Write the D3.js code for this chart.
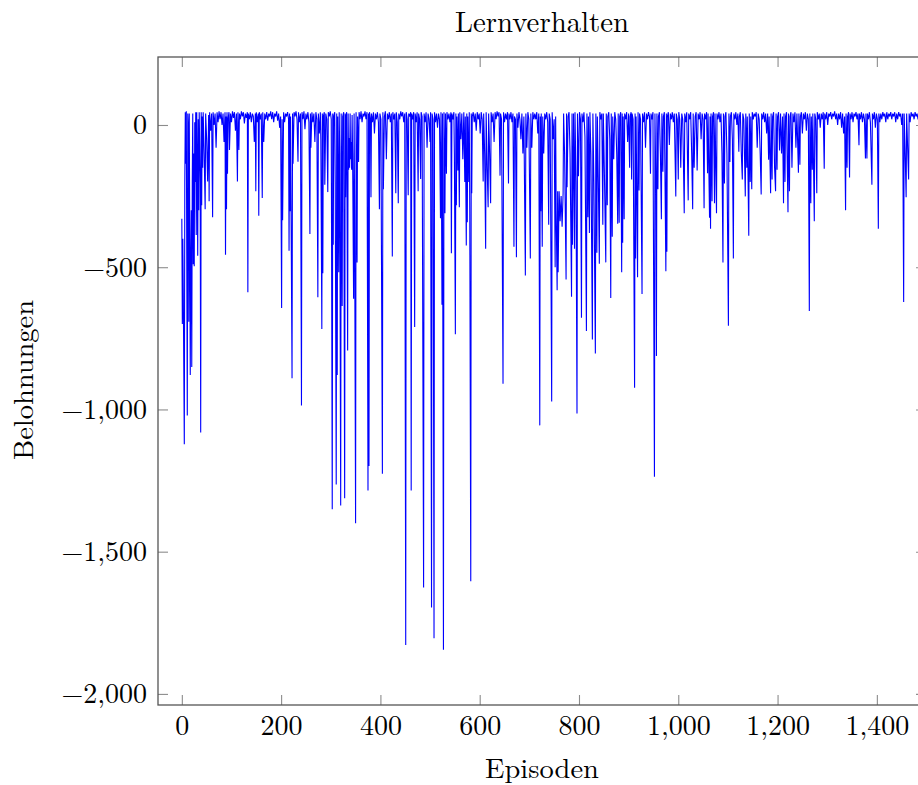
<!DOCTYPE html>
<html>
<head>
<meta charset="utf-8">
<script src="https://cdn.jsdelivr.net/npm/d3@7/dist/d3.min.js"></script>
<style>
  html, body { margin: 0; padding: 0; background: #fff; }
  svg { display: block; }
  text { font-family: "Latin Modern Roman", "CMU Serif", "Liberation Serif", "DejaVu Serif", serif; fill: #000; }
</style>
</head>
<body>
<svg id="chart" width="918" height="785"></svg>
<script>
// ---------- data ----------
const chartTitle = "Lernverhalten";
const xLabel = "Episoden";
const yLabel = "Belohnungen";
const xTickValues = [0, 200, 400, 600, 800, 1000, 1200, 1400];
const xTickLabels = ["0", "200", "400", "600", "800", "1,000", "1,200", "1,400"];
const yTickValues = [0, -500, -1000, -1500, -2000];
const yTickLabels = ["0", "\u2212500", "\u22121,000", "\u22121,500", "\u22122,000"];

// [episode, reward]
const rewardPoints = [
[0,-330],[1,-700],[2,-400],[3,-600],[5,-1122],[6,-200],[7,45],[8,-136],[9,48],[11,-1021],[12,40],[13,0],[14,-692],[15,40],[16,-400],[17,-879],[18,-493],[19,-300],[20,-851],[21,-200],[22,40],[23,-490],[24,-100],[25,-497],[26,10],[27,-200],[28,45],[29,-387],[30,45],[31,-150],[32,-460],[33,20],[34,-300],[35,45],[37,-200],[38,-1081],[39,45],[40,-282],[41,30],[42,-150],[43,45],[45,-100],[47,-296],[48,40],[50,-50],[52,-199],[54,35],[55,-268],[56,45],[58,-20],[60,40],[62,-324],[63,45],[65,0],[67,40],[69,-80],[71,45],[73,10],[75,48],[77,20],[79,45],[81,0],[83,40],[85,-60],[87,45],[88,-456],[89,30],[90,-296],[91,45],[92,-171],[93,20],[95,45],[96,-88],[98,40],[100,10],[102,48],[104,25],[106,45],[108,-20],[110,40],[112,-199],[113,45],[115,-88],[116,40],[118,20],[120,48],[122,30],[124,45],[126,5],[128,40],[130,25],[132,45],[133,-588],[134,40],[136,20],[138,45],[140,10],[142,40],[144,30],[146,-60],[148,40],[149,-233],[150,45],[152,10],[154,40],[155,-319],[156,45],[158,20],[160,40],[162,-257],[163,45],[165,-60],[167,40],[169,20],[171,45],[173,15],[175,40],[177,30],[179,48],[181,20],[183,45],[185,10],[187,40],[189,30],[191,48],[193,15],[195,40],[197,-10],[199,30],
[201,-643],[202,20],[203,-335],[205,45],[207,10],[209,40],[211,30],[213,45],[215,20],[216,-442],[217,40],[218,-303],[219,30],[222,-890],[223,40],[224,-136],[226,45],[228,30],[230,48],[232,20],[234,-129],[235,45],[237,10],[239,40],[241,-986],[242,45],[244,20],[246,48],[248,-15],[250,40],[252,20],[254,45],[256,10],[258,-383],[259,40],[260,-80],[262,45],[264,10],[266,40],[268,-60],[270,45],[272,20],[274,-606],[275,40],[277,-30],[279,45],[280,-50],[282,-717],[283,40],[284,-521],[285,30],[287,45],[288,-210],[290,40],[292,20],[294,-236],[295,45],[297,30],[299,48],
[301,20],[303,-1351],[304,40],[305,-421],[306,30],[308,45],[309,-200],[311,-1264],[312,40],[313,-879],[314,30],[316,-518],[317,45],[318,-100],[320,-1338],[321,40],[322,-200],[323,-636],[324,30],[326,45],[328,-1312],[329,40],[330,-254],[331,30],[332,45],[334,-793],[335,40],[336,-157],[337,-46],[338,-150],[339,40],[340,-120],[341,-60],[342,-157],[343,35],[344,-100],[346,-611],[347,40],[348,-300],[350,-1400],[351,45],[352,-150],[353,-483],[354,30],[356,-130],[357,45],[359,20],[361,48],[363,10],[365,40],[367,30],[369,48],[371,20],[373,45],[375,-1285],[376,40],[377,-1199],[378,45],[380,20],[381,-254],[382,40],[384,10],[386,45],[388,-30],[390,40],[392,20],[394,45],[396,10],[398,-296],[399,40],
[401,20],[404,-1226],[405,45],[406,-226],[408,30],[410,48],[412,-120],[414,40],[416,20],[418,45],[420,10],[422,40],[424,-462],[425,45],[427,20],[429,40],[431,-240],[432,45],[434,10],[436,-275],[437,40],[439,20],[441,48],[443,30],[445,45],[447,10],[449,40],[451,-1828],[452,45],[454,20],[456,-247],[457,40],[459,30],[461,45],[462,-1285],[463,40],[465,20],[467,45],[469,-710],[470,40],[472,10],[474,45],[476,-233],[477,40],[479,20],[481,-190],[482,45],[484,30],[487,-1626],[488,40],[490,10],[492,45],[494,-80],[496,40],[498,20],
[500,-60],[501,45],[503,-1696],[504,40],[506,20],[508,-1804],[509,45],[511,10],[513,40],[515,-10],[517,40],[519,20],[521,-328],[522,45],[523,-200],[524,-632],[525,40],[527,-1845],[528,45],[530,-310],[531,40],[533,-171],[534,45],[536,20],[538,40],[540,10],[542,45],[543,-451],[544,40],[546,20],[548,45],[549,-100],[551,-736],[552,40],[553,-282],[554,30],[556,-160],[557,40],[559,-289],[560,45],[562,-50],[564,40],[566,-120],[568,45],[570,-200],[571,30],[573,-424],[574,40],[575,-342],[576,30],[578,-200],[579,45],[580,-300],[582,-1604],[583,40],[584,-240],[585,30],[587,45],[589,10],[591,40],[593,-20],[595,45],[597,20],[599,40],
[601,-30],[603,45],[605,20],[607,-199],[608,40],[610,-100],[612,-435],[613,45],[615,-150],[617,-289],[618,40],[620,-100],[622,-275],[623,45],[625,10],[627,40],[629,-60],[631,45],[633,20],[635,48],[637,30],[639,45],[641,-178],[642,40],[644,20],[647,-910],[648,45],[650,10],[652,40],[654,20],[656,45],[658,-206],[659,40],[661,20],[663,45],[665,10],[667,40],[669,-428],[670,30],[672,20],[674,-465],[675,40],[677,-10],[679,45],[681,20],[683,-50],[685,40],[687,-100],[689,30],[692,-529],[693,40],[695,-80],[697,45],[699,20],
[702,-469],[703,40],[705,-80],[707,45],[709,20],[711,40],[713,20],[715,45],[717,-30],[719,40],[721,-1056],[722,30],[723,-303],[724,40],[726,-428],[727,30],[729,-100],[731,40],[733,20],[735,45],[737,10],[739,-351],[740,40],[742,20],[745,-972],[746,45],[748,-50],[750,20],[752,-500],[753,30],[754,-300],[756,-581],[757,-233],[758,-518],[760,-233],[762,-338],[764,-250],[766,-358],[768,-240],[769,40],[771,-100],[774,-543],[775,40],[776,-219],[778,30],[780,45],[782,-100],[785,-604],[786,40],[787,-421],[789,40],[791,-435],[792,45],[794,-200],[796,-1014],[797,40],[799,-180],
[801,45],[803,20],[805,-678],[806,40],[808,10],[810,45],[812,-40],[815,-724],[816,40],[818,-324],[819,30],[821,-380],[822,45],[824,-100],[827,-754],[828,40],[830,-200],[833,-803],[834,40],[836,-449],[837,30],[839,-200],[841,-488],[842,45],[844,20],[846,40],[848,-351],[849,40],[851,-150],[854,-483],[855,40],[857,-282],[858,30],[860,45],[862,-50],[864,-608],[865,40],[867,-393],[868,30],[870,-120],[872,45],[874,20],[876,-100],[878,-347],[879,40],[881,-344],[882,30],[884,45],[886,-518],[887,40],[888,-414],[889,30],[891,-331],[892,40],[894,20],[896,45],[898,-60],
[900,40],[902,-150],[903,30],[905,45],[906,-192],[907,40],[909,20],[912,-924],[913,40],[914,-469],[915,30],[918,-535],[919,45],[921,-230],[922,40],[924,20],[927,-594],[928,40],[930,10],[932,45],[934,-80],[936,40],[938,20],[940,45],[942,30],[944,-171],[945,40],[947,20],[949,45],[952,-1237],[953,40],[955,-226],[956,-812],[957,40],[959,-226],[960,30],[962,45],[964,-100],[966,-331],[967,40],[969,-164],[970,30],[972,45],[975,-514],[976,40],[977,-446],[978,30],[980,45],[982,-70],[984,40],[986,20],[988,45],[990,10],[992,40],[995,-251],[996,40],[998,20],
[1000,-192],[1001,45],[1003,20],[1005,-150],[1007,40],[1009,20],[1012,-310],[1013,40],[1015,10],[1017,45],[1020,-265],[1021,40],[1023,20],[1025,45],[1027,-100],[1029,-296],[1030,40],[1032,-150],[1034,30],[1036,45],[1038,-160],[1040,40],[1042,20],[1044,45],[1046,-50],[1048,40],[1050,20],[1052,-293],[1053,40],[1055,20],[1057,45],[1059,-170],[1060,40],[1063,-326],[1064,30],[1065,-365],[1066,40],[1068,-268],[1069,30],[1071,45],[1073,-275],[1074,40],[1077,-310],[1078,40],[1080,20],[1082,45],[1084,10],[1086,40],[1088,-100],[1090,-483],[1091,40],[1093,-206],[1094,30],[1096,45],[1098,-100],
[1101,-706],[1102,40],[1104,-130],[1105,30],[1107,45],[1109,-50],[1111,-469],[1112,40],[1114,20],[1116,45],[1118,0],[1120,40],[1122,-94],[1123,30],[1125,45],[1127,-100],[1129,-192],[1130,40],[1132,20],[1135,-251],[1136,40],[1138,-150],[1139,30],[1142,-389],[1143,40],[1145,-200],[1146,30],[1148,-226],[1149,45],[1151,20],[1153,40],[1155,30],[1157,45],[1159,-80],[1161,40],[1163,20],[1165,-100],[1167,-244],[1168,40],[1170,20],[1172,45],[1174,10],[1176,40],[1178,-30],[1180,40],[1182,-122],[1183,30],[1186,-240],[1187,40],[1189,-192],[1190,30],[1192,45],[1194,-150],[1196,-233],[1197,40],[1199,-157],
[1200,30],[1202,45],[1204,-90],[1206,40],[1208,-100],[1210,30],[1212,-275],[1213,40],[1215,-200],[1216,30],[1218,45],[1221,-307],[1222,40],[1224,-233],[1225,30],[1227,45],[1229,-150],[1231,40],[1233,10],[1235,45],[1237,-80],[1239,40],[1242,-168],[1243,40],[1245,-140],[1246,30],[1248,45],[1250,-30],[1252,40],[1254,20],[1256,45],[1258,-20],[1260,40],[1262,20],[1264,-654],[1265,40],[1267,-275],[1268,30],[1270,-157],[1271,40],[1274,-338],[1275,40],[1277,20],[1279,-240],[1280,45],[1282,20],[1284,40],[1286,-10],[1288,40],[1290,20],[1292,45],[1294,-154],[1295,40],[1297,20],[1299,45],
[1301,0],[1303,40],[1305,30],[1307,45],[1309,20],[1311,40],[1313,30],[1315,48],[1317,20],[1319,40],[1321,0],[1323,40],[1325,20],[1327,45],[1329,-10],[1331,40],[1333,-30],[1335,30],[1337,-300],[1338,40],[1340,-150],[1341,30],[1343,45],[1345,-185],[1346,40],[1348,20],[1350,45],[1352,10],[1354,40],[1356,30],[1358,45],[1360,20],[1362,40],[1364,-71],[1365,40],[1367,20],[1369,45],[1371,10],[1373,40],[1375,20],[1377,-118],[1378,40],[1380,-118],[1381,40],[1383,20],[1385,45],[1387,10],[1390,-210],[1391,40],[1393,20],[1395,45],[1397,-10],[1399,40],
[1401,20],[1403,-365],[1404,40],[1406,10],[1408,40],[1410,20],[1412,45],[1414,30],[1416,40],[1418,10],[1420,45],[1422,20],[1424,40],[1426,30],[1428,45],[1430,20],[1432,40],[1434,30],[1436,45],[1438,10],[1440,40],[1442,20],[1444,45],[1446,30],[1448,40],[1450,0],[1452,40],[1454,-622],[1455,40],[1457,-100],[1459,-254],[1460,40],[1462,-80],[1464,-192],[1465,40],[1467,10],[1469,45],[1471,30],[1473,40],[1475,20],[1477,45],[1479,30],[1481,40],[1483,20],[1485,45],[1487,30],[1490,40]
];

// ---------- layout ----------
const W = 918, H = 785;
const plot = { left: 158, right: 926, top: 57, bottom: 705 };
const fontSize = 28;

const svg = d3.select("#chart");

const x = d3.scaleLinear().domain([-48, 1499]).range([plot.left, plot.right]);
const y = d3.scaleLinear().domain([-2039, 239]).range([plot.bottom, plot.top]);

// clip
svg.append("defs").append("clipPath").attr("id", "plotClip")
  .append("rect")
  .attr("x", plot.left).attr("y", plot.top)
  .attr("width", plot.right - plot.left).attr("height", plot.bottom - plot.top);

// line
const line = d3.line().x(d => x(d[0])).y(d => y(d[1]));
svg.append("path")
  .datum(rewardPoints)
  .attr("clip-path", "url(#plotClip)")
  .attr("fill", "none")
  .attr("stroke", "#0000ff")
  .attr("stroke-width", 1.1)
  .attr("stroke-linejoin", "miter")
  .attr("stroke-miterlimit", 2)
  .attr("d", line);

// axes (ticks inward, on all four sides)
const tickLen = 10;
function styleAxis(g) {
  g.select(".domain").remove();
  g.selectAll(".tick line").attr("stroke", "#8c8c8c").attr("stroke-width", 1.1);
  g.selectAll("text").style("font-size", fontSize + "px").attr("fill", "#000");
}

const gx = svg.append("g").attr("transform", `translate(0,${plot.bottom})`)
  .call(d3.axisBottom(x).tickValues(xTickValues).tickSize(-tickLen)
        .tickFormat((d, i) => xTickLabels[i]));
styleAxis(gx);
gx.selectAll("text").attr("y", 30).attr("dy", 0);

const gxt = svg.append("g").attr("transform", `translate(0,${plot.top})`)
  .call(d3.axisTop(x).tickValues(xTickValues).tickSize(-tickLen).tickFormat(""));
styleAxis(gxt);

const gy = svg.append("g").attr("transform", `translate(${plot.left},0)`)
  .call(d3.axisLeft(y).tickValues(yTickValues).tickSize(-tickLen)
        .tickFormat((d, i) => yTickLabels[i]));
styleAxis(gy);
gy.selectAll("text").attr("x", -11).attr("dy", 9).attr("text-anchor", "end");

const gyr = svg.append("g").attr("transform", `translate(${plot.right},0)`)
  .call(d3.axisRight(y).tickValues(yTickValues).tickSize(-tickLen).tickFormat(""));
styleAxis(gyr);

// frame
svg.append("rect")
  .attr("x", plot.left).attr("y", plot.top)
  .attr("width", plot.right - plot.left).attr("height", plot.bottom - plot.top)
  .attr("fill", "none").attr("stroke", "#555").attr("stroke-width", 1.3);

// title and labels
const cx = (plot.left + plot.right) / 2;
svg.append("text").attr("x", cx).attr("y", 32)
  .attr("text-anchor", "middle").style("font-size", "29px")
  .attr("textLength", 174).attr("lengthAdjust", "spacingAndGlyphs")
  .text(chartTitle);

svg.append("text").attr("x", cx).attr("y", 778)
  .attr("text-anchor", "middle").style("font-size", fontSize + "px")
  .attr("textLength", 114).attr("lengthAdjust", "spacingAndGlyphs")
  .text(xLabel);

svg.append("text")
  .attr("transform", `translate(33,380) rotate(-90)`)
  .attr("text-anchor", "middle").style("font-size", fontSize + "px")
  .attr("textLength", 160).attr("lengthAdjust", "spacingAndGlyphs")
  .text(yLabel);
</script>
</body>
</html>
